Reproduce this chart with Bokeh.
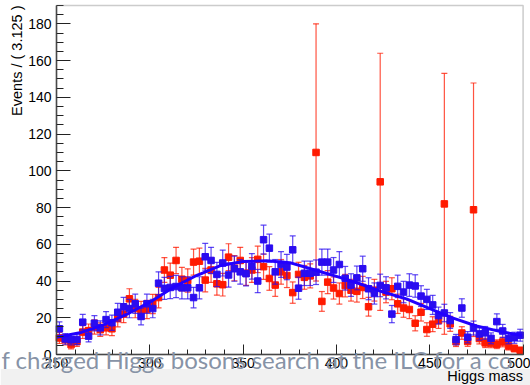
import numpy as np
from bokeh.plotting import figure
from bokeh.models import Range1d, SingleIntervalTicker, Label, BoxAnnotation, ColumnDataSource
from bokeh.embed import file_html
from bokeh.resources import INLINE

# ---------------- data ----------------
mass_min, mass_max, bin_width = 250.0, 500.0, 3.125
events_max = 190.0

blue_events = [14, 8.5, 8, 8.2, 17.6, 10, 17, 14.5, 19, 17.3,
               23, 26, 25, 27.6, 20.7, 27.6, 25, 38.8, 36, 36.5,
               37, 36.3, 36.3, 31, 36.3, 53.2, 51.2, 43.6, 49.8, 43.3,
               46.7, 45, 44, 48, 40, 62.5, 57.9, 45, 49, 47.6,
               57, 36.1, 44.2, 44.2, 44.8, 50.3, 50.3, 46, 49, 41.5,
               37.8, 41.7, 46.7, 35.8, 33.2, 37.6, 36.3, 22, 37.1, 34,
               37.8, 37.3, 31.8, 30, 27, 21.2, 22.6, 18.5, 8.1, 25.3,
               9.4, 14.4, 11.2, 11.8, 8.8, 17.9, 12.8, 8.8, 9.1, 10.5]

red_events = [9, 8, 5.4, 7, 12.2, 13, 15, 13.5, 14.5, 14,
              19.5, 22, 30.3, 25, 24, 24.5, 27.5, 31, 46, 43.2,
              51.2, 41, 40.3, 50.3, 50.8, 40.5, 46, 38.5, 38, 53,
              47, 51.2, 44.3, 46, 51.8, 47.8, 41.4, 37.8, 45, 43,
              33.7, 43.6, 42, 42.8, 110, 28.9, 39.4, 36.2, 33.2, 37.5,
              35, 34.4, 36.5, 26, 35, 94, 34, 35.8, 27.6, 25.3,
              24.5, 17, 23, 13.6, 16.5, 18.5, 82, 16.7, 7, 11.7,
              7.1, 78.8, 8.7, 6.3, 6.2, 5.6, 6.8, 4.6, 3.3, 2.3]

red_outlier_bins = [44, 55, 66, 71]
red_outlier_errors = [70, 70, 71, 69]

fit_mass = [250, 262.5, 275, 287.5, 300, 312.5, 325, 337.5, 350, 362.5,
            375, 387.5, 400, 412.5, 425, 437.5, 450, 462.5, 475, 487.5, 500]
fit_events = [9.4, 11.8, 16, 21.8, 28.5, 36.5, 43, 48.3, 50.6, 51,
              50, 46.3, 42.5, 38.5, 34, 30.3, 25, 19.8, 15.5, 12.6, 10.2]

y_title = "Events / ( 3.125 )"
x_title = "Higgs mass"
slide_text = "f charged Higgs bosons search at the ILC for a co"

# ---------------- derived ----------------
blue = np.array(blue_events, dtype=float)
red = np.array(red_events, dtype=float)
centers = mass_min + bin_width * (np.arange(len(blue)) + 0.5)
blue_err = np.sqrt(blue)
red_err = np.sqrt(red)
red_err[red_outlier_bins] = red_outlier_errors

BLUE = "#2a0cf0"
RED = "#ff1a00"

# pixel layout of the canvas: frame spans x 56..522.6 px, y 5..354 px
W, H = 530, 385
fx0, fx1, fy_top, fy_bot = 56.0, 522.6, 5.0, 354.0
xs = (mass_max - mass_min) / (fx1 - fx0)
ys = events_max / (fy_bot - fy_top)
def dx(px):
    return mass_min + (px - fx0) * xs
def dy(py):
    return (fy_bot - py) * ys

p = figure(width=W, height=H, output_backend="svg", toolbar_location=None,
           x_range=Range1d(dx(0), dx(W)), y_range=Range1d(dy(H), dy(0)),
           min_border_left=0, min_border_right=0, min_border_top=0, min_border_bottom=0)
p.xgrid.visible = False
p.ygrid.visible = False
p.background_fill_color = "white"
p.border_fill_color = "white"
p.outline_line_color = None

for ax in (p.xaxis, p.yaxis):
    ax.axis_line_color = "#444444"
    ax.axis_line_width = 1.5
    ax.major_tick_line_color = "#222222"
    ax.minor_tick_line_color = "#222222"
    ax.major_tick_out = 0
    ax.minor_tick_out = 0
    ax.major_label_text_font = "Liberation Sans"
    ax.major_label_text_font_size = "14px"
    ax.major_label_text_color = "black"

p.xaxis.fixed_location = 0
p.xaxis.bounds = (mass_min, mass_max)
p.xaxis.ticker = SingleIntervalTicker(interval=50, num_minor_ticks=5)
p.xaxis.major_tick_in = 10
p.xaxis.minor_tick_in = 5
p.xaxis.major_label_standoff = 3

p.yaxis.fixed_location = mass_min
p.yaxis.bounds = (0, events_max)
p.yaxis.ticker = SingleIntervalTicker(interval=20, num_minor_ticks=4)
p.yaxis.major_tick_in = 14
p.yaxis.minor_tick_in = 7
p.yaxis.major_label_standoff = 5

# slide footer band (under everything)
p.add_layout(BoxAnnotation(left=dx(0), right=dx(W), bottom=dy(H), top=dy(368.5),
                           fill_color="#f1f1f1", fill_alpha=1, line_alpha=0,
                           level="underlay"))

def draw_series(vals, errs, color):
    src = ColumnDataSource(dict(x=centers, y=vals, lo=vals - errs, hi=vals + errs))
    p.segment(x0="x", y0="lo", x1="x", y1="hi", source=src, line_color=color,
              line_width=1.2, line_alpha=0.75)
    p.scatter(x="x", y="hi", source=src, marker="dash", size=6, line_color=color,
              line_width=1.2, line_alpha=0.75)
    p.scatter(x="x", y="lo", source=src, marker="dash", size=6, line_color=color,
              line_width=1.2, line_alpha=0.75)
    p.scatter(x="x", y="y", source=src, marker="square", size=6.5,
              fill_color=color, line_color=color)

draw_series(red, red_err, RED)
draw_series(blue, blue_err, BLUE)
p.line(fit_mass, fit_events, line_color="#2200ff", line_width=3)

# ROOT frame (top / right border)
p.add_layout(BoxAnnotation(left=mass_min, right=mass_max, bottom=0, top=events_max,
                           fill_alpha=0, line_color="#555555", line_width=1.5))

p.add_layout(Label(x=dx(1), y=dy(359), text=slide_text, text_font="Lato",
                   text_font_size="24px", text_color="#8793a6",
                   text_align="left", text_baseline="alphabetic"))
p.add_layout(Label(x=dx(522.6), y=dy(375.5), text=x_title, text_font="Liberation Sans",
                   text_font_size="14.5px", text_color="black",
                   text_align="right", text_baseline="alphabetic"))
p.add_layout(Label(x=dx(16), y=dy(5), text=y_title, text_font="Liberation Sans",
                   text_font_size="14.5px", text_color="black", angle=np.pi / 2,
                   text_align="right", text_baseline="alphabetic"))

open("out.html", "w").write(file_html(p, INLINE))
